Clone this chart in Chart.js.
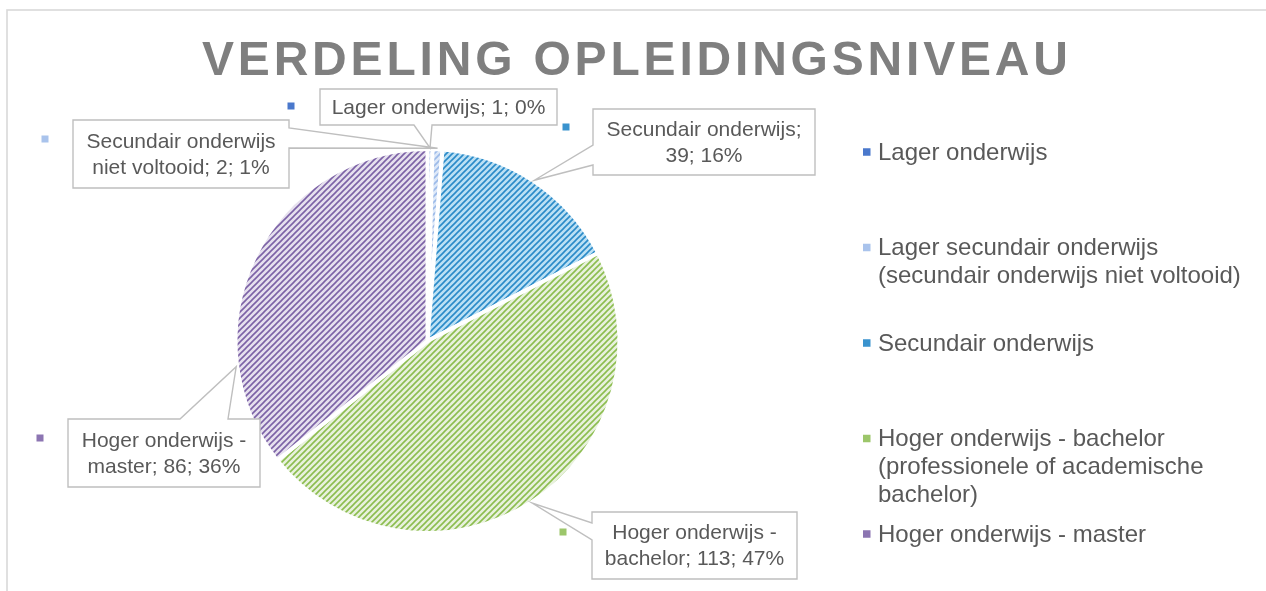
<!DOCTYPE html>
<html>
<head>
<meta charset="utf-8">
<title>Verdeling opleidingsniveau</title>
<script src="https://cdn.jsdelivr.net/npm/chart.js@4/dist/chart.umd.min.js"></script>
<style>
  html, body { margin: 0; padding: 0; background: #fff; }
  canvas { display: block; }
</style>
</head>
<body>
<canvas id="pieChart" width="1266" height="591"></canvas>
<script>
// Data
const chartTitle = 'VERDELING OPLEIDINGSNIVEAU';
const categories = [
    'Lager onderwijs',
    'Lager secundair onderwijs (secundair onderwijs niet voltooid)',
    'Secundair onderwijs',
    'Hoger onderwijs - bachelor (professionele of academische bachelor)',
    'Hoger onderwijs - master'
];
const shortNames = [
    'Lager onderwijs',
    'Secundair onderwijs niet voltooid',
    'Secundair onderwijs',
    'Hoger onderwijs - bachelor',
    'Hoger onderwijs - master'
];
const counts = [1, 2, 39, 113, 86];

const stripeColors = ['#3D6EC8', '#9CBAE8', '#2A8AC8', '#8CBD4F', '#7C62A6'];
const fillColors = ['#B3C9EF', '#DDE8F8', '#BBE0F4', '#E8F1DD', '#E6E0EE'];
const keyColors = ['#4A78CC', '#A9C3EC', '#3A93CE', '#9CC66A', '#8C75B2'];

const textColor = '#595959';

// diagonal stripe pattern like the Excel fill
function makePattern(fg, bg) {
    const tile = document.createElement('canvas');
    tile.width = 6;
    tile.height = 6;
    const t = tile.getContext('2d');
    t.fillStyle = bg;
    t.fillRect(0, 0, 6, 6);
    t.strokeStyle = fg;
    t.lineWidth = 1.6;
    t.beginPath();
    t.moveTo(-1, 7); t.lineTo(7, -1);
    t.moveTo(-4, 4); t.lineTo(4, -4);
    t.moveTo(2, 10); t.lineTo(10, 2);
    t.stroke();
    return t.createPattern(tile, 'repeat');
}

const ctx = document.getElementById('pieChart').getContext('2d');
const patterns = stripeColors.map((c, i) => makePattern(c, fillColors[i]));

function wrapText(c, text, maxWidth) {
    const words = text.split(' ');
    const lines = [];
    let line = '';
    words.forEach(w => {
        const test = line ? line + ' ' + w : w;
        if (line && c.measureText(test).width > maxWidth) {
            lines.push(line);
            line = w;
        } else {
            line = test;
        }
    });
    if (line) lines.push(line);
    return lines;
}

// frame + title
const framePlugin = {
    id: 'frame',
    beforeDraw(chart) {
        const c = chart.ctx;
        c.save();
        c.fillStyle = '#fff';
        c.fillRect(0, 0, chart.width, chart.height);
        c.strokeStyle = '#D9D9D9';
        c.lineWidth = 1.6;
        c.strokeRect(7, 10, 1400, 800);
        c.restore();
    },
    afterDraw(chart) {
        const c = chart.ctx;
        c.save();
        c.font = 'bold 48px "Liberation Sans", Arial, sans-serif';
        c.fillStyle = '#7F7F7F';
        c.textBaseline = 'alphabetic';
        c.textAlign = 'left';
        const plain = c.measureText(chartTitle).width;
        const spacing = (866 - plain) / (chartTitle.length - 1);
        c.letterSpacing = spacing + 'px';
        c.fillText(chartTitle, 202, 75);
        c.restore();
    }
};

// data callouts with wedge pointer
const calloutPlugin = {
    id: 'callouts',
    afterDatasetsDraw(chart, args, opts) {
        const c = chart.ctx;
        const meta = chart.getDatasetMeta(0);
        const data = chart.data.datasets[0].data;
        const total = data.reduce((a, b) => a + b, 0);
        c.save();
        c.font = '21px "Liberation Sans", Arial, sans-serif';
        opts.boxes.forEach((b, i) => {
            const arc = meta.data[i];
            const p = arc.getProps(['x', 'y', 'startAngle', 'endAngle', 'outerRadius'], true);
            const a = p.startAngle + (p.endAngle - p.startAngle) * b.at;
            const tip = [p.x + Math.cos(a) * (p.outerRadius + 1), p.y + Math.sin(a) * (p.outerRadius + 1)];
            const { x, y, w, h, side, s0, s1 } = b;
            const pts = [[x, y]];
            if (side === 'top') pts.push([s0, y], tip, [s1, y]);
            pts.push([x + w, y]);
            if (side === 'right') pts.push([x + w, s0], tip, [x + w, s1]);
            pts.push([x + w, y + h]);
            if (side === 'bottom') pts.push([s1, y + h], tip, [s0, y + h]);
            pts.push([x, y + h]);
            if (side === 'left') pts.push([x, s1], tip, [x, s0]);

            c.beginPath();
            pts.forEach((pt, k) => k ? c.lineTo(pt[0], pt[1]) : c.moveTo(pt[0], pt[1]));
            c.closePath();
            c.fillStyle = '#fff';
            c.fill();
            c.strokeStyle = '#BFBFBF';
            c.lineWidth = 1.4;
            c.stroke();

            // legend key next to the callout
            c.fillStyle = keyColors[i];
            c.fillRect(b.kx - 3.5, b.ky - 3.5, 7, 7);

            const pct = Math.round(data[i] / total * 100);
            const text = shortNames[i] + '; ' + data[i] + '; ' + pct + '%';
            const lines = wrapText(c, text, w - 12);
            c.fillStyle = textColor;
            c.textAlign = 'center';
            c.textBaseline = 'middle';
            lines.forEach((ln, k) => {
                c.fillText(ln, x + w / 2, y + h / 2 + (k - (lines.length - 1) / 2) * 26 + 1);
            });
        });
        c.restore();
    }
};

// legend on the right, Excel style
const legendPlugin = {
    id: 'sideLegend',
    afterDraw(chart) {
        const c = chart.ctx;
        c.save();
        c.font = '24px "Liberation Sans", Arial, sans-serif';
        c.textBaseline = 'middle';
        c.textAlign = 'left';
        chart.data.labels.forEach((label, i) => {
            const y0 = 152 + i * 95.5;
            c.fillStyle = keyColors[i];
            c.fillRect(863, y0 - 3.75, 7.5, 7.5);
            c.fillStyle = textColor;
            wrapText(c, label, 372).forEach((ln, k) => c.fillText(ln, 878, y0 + 1 + k * 28));
        });
        c.restore();
    }
};

new Chart(ctx, {
    type: 'pie',
    data: {
        labels: categories,
        datasets: [{
            data: counts,
            backgroundColor: patterns,
            borderColor: '#ffffff',
            borderWidth: 4
        }]
    },
    options: {
        responsive: false,
        animation: false,
        devicePixelRatio: 1,
        layout: {
            padding: { left: 233.5, top: 147, right: 644.5, bottom: 56 }
        },
        plugins: {
            legend: { display: false },
            tooltip: { enabled: false },
            callouts: {
                boxes: [
                    { x: 320, y: 89, w: 237, h: 36, side: 'bottom', s0: 414, s1: 432, at: 0.5, kx: 291, ky: 106 },
                    { x: 73, y: 120, w: 216, h: 68, side: 'right', s0: 128, s1: 148, at: 0.5, kx: 45, ky: 139 },
                    { x: 593, y: 109, w: 222, h: 66, side: 'left', s0: 145, s1: 165, at: 0.5, kx: 566, ky: 127 },
                    { x: 592, y: 512, w: 205, h: 67, side: 'left', s0: 523, s1: 540, at: 0.5, kx: 563, ky: 532 },
                    { x: 68, y: 419, w: 192, h: 68, side: 'top', s0: 180, s1: 228, at: 0.24, kx: 40, ky: 438 }
                ]
            }
        }
    },
    plugins: [framePlugin, calloutPlugin, legendPlugin]
});
</script>
</body>
</html>
